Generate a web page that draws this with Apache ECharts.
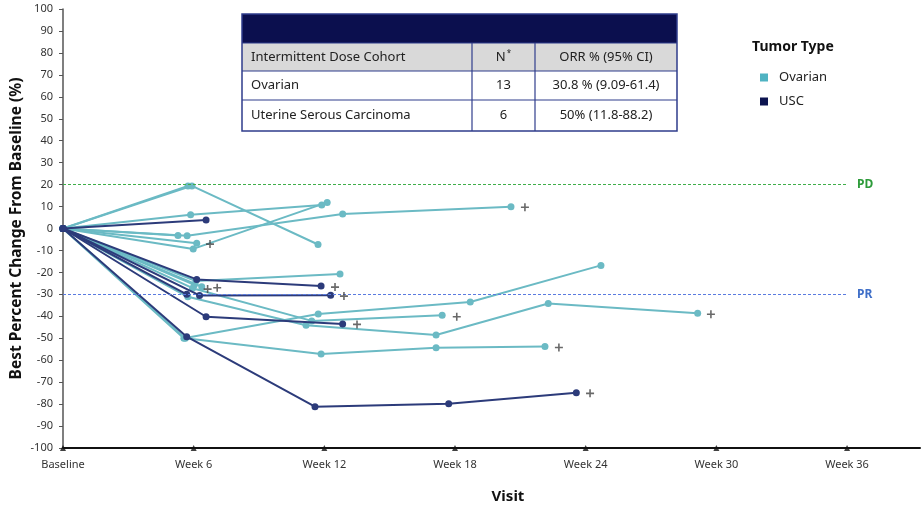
<!DOCTYPE html>
<html>
<head>
<meta charset="utf-8">
<script src="https://cdn.jsdelivr.net/npm/echarts@6/dist/echarts.min.js"></script>
<style>
  html, body { margin: 0; padding: 0; background: #fff; }
  #chart { width: 924px; height: 511px; }
</style>
</head>
<body>
<div id="chart"></div>
<script>
// Visits on the x axis (weeks) and their labels
const visitWeeks = [0, 6, 12, 18, 24, 30, 36];
const visitLabels = ['Baseline', 'Week 6', 'Week 12', 'Week 18', 'Week 24', 'Week 30', 'Week 36'];

// Percent change from baseline per patient: [week, % change]
const ovarianPatients = [
  [[0, 0], [5.92, 19.4], [11.71, -7.3]],
  [[0, 0], [5.74, 19.4]],
  [[0, 0], [5.86, 6.3], [11.88, 10.7]],
  [[0, 0], [5.28, -3.2]],
  [[0, 0], [5.70, -3.3], [12.84, 6.6], [20.57, 9.9]],
  [[0, 0], [6.14, -6.7]],
  [[0, 0], [5.98, -9.3], [12.13, 11.9]],
  [[0, 0], [6.10, -23.9], [12.72, -20.7]],
  [[0, 0], [6.03, -25.7]],
  [[0, 0], [6.37, -26.5]],
  [[0, 0], [5.95, -27.2], [11.42, -42.1], [17.41, -39.5]],
  [[0, 0], [5.73, -31.1], [11.16, -44.1], [17.13, -48.5], [22.28, -34.2], [29.14, -38.6]],
  [[0, 0], [5.55, -50.0], [11.72, -39.0], [18.70, -33.5], [24.70, -16.8]],
  [[0, 0], [5.62, -50.0], [11.85, -57.2], [17.13, -54.3], [22.13, -53.8]]
];
const uscPatients = [
  [[0, 0], [6.57, 3.9]],
  [[0, 0], [6.14, -23.2], [11.85, -26.2]],
  [[0, 0], [5.68, -30.0]],
  [[0, 0], [6.27, -30.5], [12.29, -30.4]],
  [[0, 0], [6.57, -40.2], [12.84, -43.5]],
  [[0, 0], [5.68, -49.3], [11.57, -81.2], [17.71, -79.8], [23.57, -74.8]]
];

// Ongoing-treatment markers ("+")
const ongoingMarks = [
  [21.21, 9.7], [6.75, -7.1], [6.64, -27.6], [7.08, -27.0], [18.08, -40.2],
  [29.75, -39.1], [22.77, -54.2], [12.49, -26.7], [12.90, -30.8], [13.50, -43.7], [24.20, -75.1]
];

// Response thresholds
const pdThreshold = 20;
const prThreshold = -30;

// Summary table rows
const tableHeader = ['Intermittent Dose Cohort', 'N', 'ORR % (95% CI)'];
const tableRows = [
  ['Ovarian', '13', '30.8 % (9.09-61.4)'],
  ['Uterine Serous Carcinoma', '6', '50% (11.8-88.2)']
];

const TEAL = '#6bbac4';
const NAVY = '#2c3b7a';
const FONT = '"Noto Sans", "Open Sans", sans-serif';

const chart = echarts.init(document.getElementById('chart'), null, { renderer: 'canvas' });

function patientSeries(name, data, color, z) {
  return {
    name: name,
    type: 'line',
    data: data,
    symbol: 'circle',
    symbolSize: 7,
    showSymbol: true,
    z: z,
    lineStyle: { color: color, width: 2 },
    itemStyle: { color: color },
    emphasis: { disabled: true },
    animation: false
  };
}

const series = [];
ovarianPatients.forEach(p => series.push(patientSeries('Ovarian', p, TEAL, 3)));
uscPatients.forEach(p => series.push(patientSeries('USC', p, NAVY, 4)));

// Threshold lines (PD / PR)
series.push({
  name: 'thresholds',
  type: 'line',
  data: [],
  silent: true,
  animation: false,
  markLine: {
    silent: true,
    symbol: 'none',
    animation: false,
    data: [
      [
        { coord: [0, pdThreshold], lineStyle: { color: '#3fae49', type: [3, 2], width: 1.2 },
          label: { show: true, position: 'end', formatter: 'PD', color: '#2d9b3a', fontWeight: 'bold', fontSize: 12, fontFamily: FONT, distance: 10 } },
        { coord: [36, pdThreshold] }
      ],
      [
        { coord: [0, prThreshold], lineStyle: { color: '#5a7be0', type: [3, 2], width: 1.2 },
          label: { show: true, position: 'end', formatter: 'PR', color: '#3f6fc8', fontWeight: 'bold', fontSize: 12, fontFamily: FONT, distance: 10 } },
        { coord: [36, prThreshold] }
      ]
    ]
  }
});

// Ongoing markers
series.push({
  name: 'ongoing',
  type: 'scatter',
  data: ongoingMarks,
  symbol: 'path://M4,0H6V4H10V6H6V10H4V6H0V4H4Z',
  symbolSize: 8,
  itemStyle: { color: '#444' },
  z: 5,
  silent: true,
  animation: false
});

// Triangular tick markers on the visit axis
series.push({
  name: 'visitTicks',
  type: 'scatter',
  data: visitWeeks.map(w => [w, -100]),
  symbol: 'triangle',
  symbolSize: 6,
  itemStyle: { color: '#111' },
  z: 6,
  silent: true,
  animation: false
});

// Table built from graphic elements
const tX = 242, tW = 435, colX = [242, 472, 535, 677];
const rowY = [14, 43, 71, 100, 131];
const tableGraphics = [];
tableGraphics.push({ type: 'rect', shape: { x: tX, y: rowY[0], width: tW, height: rowY[1] - rowY[0] }, style: { fill: '#0b0f4e' } });
tableGraphics.push({ type: 'rect', shape: { x: tX, y: rowY[1], width: tW, height: rowY[2] - rowY[1] }, style: { fill: '#d9d9d9' } });
tableGraphics.push({ type: 'rect', shape: { x: tX, y: rowY[2], width: tW, height: rowY[4] - rowY[2] }, style: { fill: '#ffffff' } });
// grid lines
const borderColor = '#2f3d8c';
tableGraphics.push({ type: 'rect', shape: { x: tX, y: rowY[0], width: tW, height: rowY[4] - rowY[0] }, style: { fill: null, stroke: borderColor, lineWidth: 1.5 } });
[rowY[1], rowY[2], rowY[3]].forEach(y => tableGraphics.push({ type: 'line', shape: { x1: tX, y1: y, x2: tX + tW, y2: y }, style: { stroke: borderColor, lineWidth: 1.2 } }));
[colX[1], colX[2]].forEach(x => tableGraphics.push({ type: 'line', shape: { x1: x, y1: rowY[1], x2: x, y2: rowY[4] }, style: { stroke: borderColor, lineWidth: 1.2 } }));

const cellText = (text, col, row, rich) => {
  const yMid = (rowY[row] + rowY[row + 1]) / 2;
  const left = col === 0;
  const x = left ? colX[0] + 9 : (colX[col] + colX[col + 1]) / 2;
  const el = {
    type: 'text', x: x, y: yMid,
    style: { text: text, fill: '#222', font: '13px ' + FONT, textAlign: left ? 'left' : 'center', textVerticalAlign: 'middle' }
  };
  if (rich) el.style.rich = rich;
  return el;
};
tableGraphics.push(cellText(tableHeader[0], 0, 1));
tableGraphics.push(cellText('{n|' + tableHeader[1] + '}{s|*}', 1, 1, { n: { fontSize: 13, fontFamily: FONT, fill: '#222' }, s: { fontSize: 8, fontFamily: FONT, fill: '#222', verticalAlign: 'top', padding: [0, 0, 6, 1] } }));
tableGraphics.push(cellText(tableHeader[2], 2, 1));
tableRows.forEach((r, i) => r.forEach((t, c) => tableGraphics.push(cellText(t, c, i + 2))));

const option = {
  backgroundColor: '#ffffff',
  animation: false,
  textStyle: { fontFamily: FONT },
  grid: { left: 63, right: 4, top: 9, bottom: 63, containLabel: false, outerBoundsMode: 'none' },
  legend: {
    orient: 'vertical',
    left: 755,
    top: 66,
    itemWidth: 8,
    itemHeight: 8,
    itemGap: 11,
    icon: 'rect',
    data: [
      { name: 'Ovarian', itemStyle: { color: '#4fb3c2' } },
      { name: 'USC', itemStyle: { color: '#0d1450' } }
    ],
    textStyle: { fontSize: 13, color: '#222', fontFamily: FONT, padding: [0, 0, 0, 6] },
    selectedMode: false
  },
  xAxis: {
    type: 'value',
    min: 0,
    max: 39.35,
    interval: 6,
    splitLine: { show: false },
    axisLine: { show: true, onZero: false, lineStyle: { color: '#111', width: 2 } },
    axisTick: { show: false },
    axisLabel: {
      fontSize: 11,
      color: '#333',
      margin: 11,
      showMaxLabel: false,
      formatter: v => {
        const i = visitWeeks.indexOf(v);
        return i >= 0 ? visitLabels[i] : '';
      }
    }
  },
  yAxis: {
    type: 'value',
    min: -100,
    max: 100,
    interval: 10,
    name: 'Best Percent Change From Baseline (%)',
    nameLocation: 'middle',
    nameGap: 38,
    nameMoveOverlap: false,
    nameTextStyle: { fontSize: 15.5, fontWeight: 'bold', color: '#111', fontFamily: FONT },
    splitLine: { show: false },
    axisLine: { show: true, onZero: false, lineStyle: { color: '#555', width: 1.5 } },
    axisTick: { show: true, inside: false, length: 4, lineStyle: { color: '#555' } },
    axisLabel: { fontSize: 11, color: '#333', margin: 10 }
  },
  graphic: [
    { type: 'text', left: 752, top: 40, style: { text: 'Tumor Type', font: 'bold 14px ' + FONT, fill: '#111' } },
    { type: 'text', x: 508, y: 497, style: { text: 'Visit', font: 'bold 15px ' + FONT, fill: '#111', textAlign: 'center', textVerticalAlign: 'middle' } },
    { type: 'group', children: tableGraphics }
  ],
  series: series
};

chart.setOption(option);
</script>
</body>
</html>
